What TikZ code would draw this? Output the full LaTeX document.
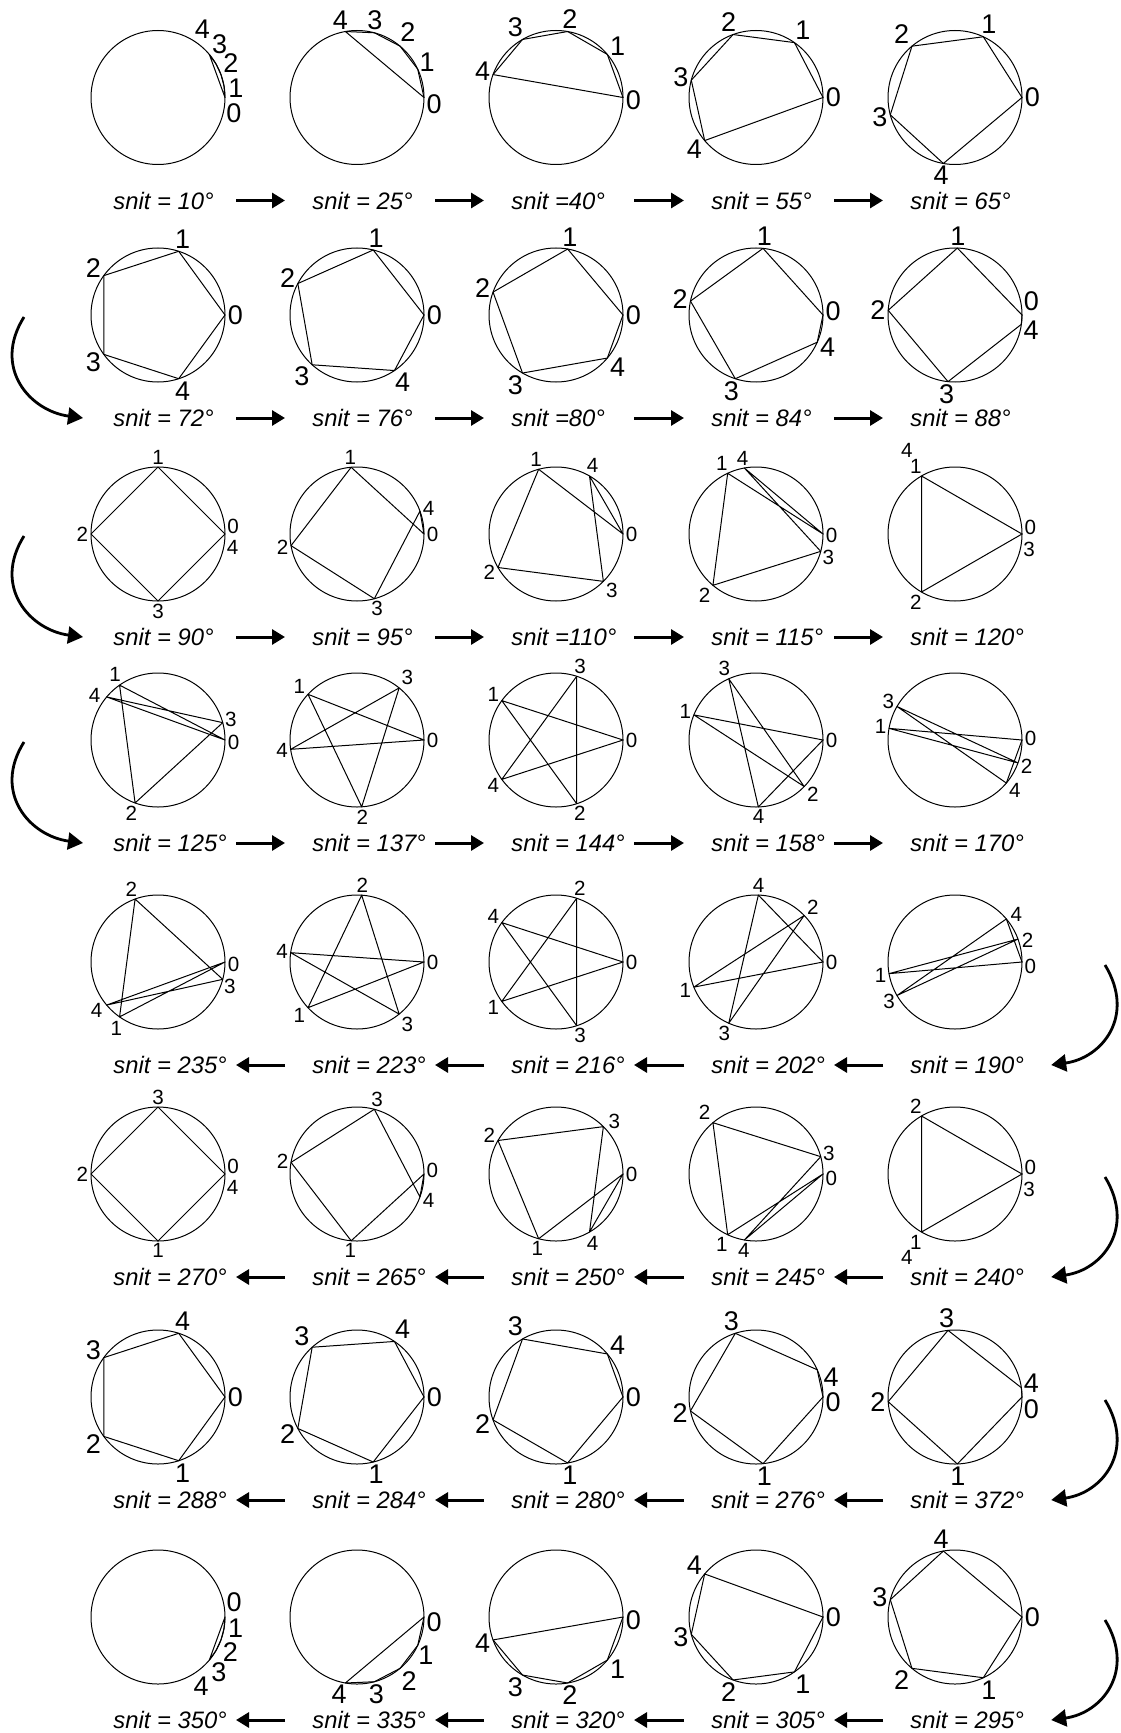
\documentclass[tikz,border=0pt]{standalone}
\usepackage{fontspec}
\setmainfont{Liberation Sans}
\usetikzlibrary{arrows.meta,calc}

% one wheel: name, centre, drawn step angle, caption, labels k/angle/extra, digit style
\newcommand{\wheel}[6]{%
  \node[ring] (#1) at (#2) {};
  \foreach \k in {0,...,4}
    \coordinate (#1-\k) at ($(#1.center)+({\k*#3}:67)$);
  \draw[chord] (#1-0) -- (#1-1) -- (#1-2) -- (#1-3) -- (#1-4) -- cycle;
  \foreach \k/\a/\e [evaluate=\a as \opp using {\a+180}] in {#5}
    \node[#6, anchor=\opp] (#1-n\k) at ($(#1.center)+({\a}:{67+\e})$) {\k};
  \node[snitlabel] (#1-cap) at ($(#1.center)+(-45,-103)$) {#4};
}

\begin{document}
\begin{tikzpicture}[x=0.5pt,y=0.5pt,
    ring/.style={circle,draw,line width=0.5pt,minimum size=67pt,inner sep=0pt,outer sep=0pt},
    chord/.style={line width=0.5pt,line join=round},
    bigdigit/.style={font=\fontsize{13.5}{14}\selectfont,inner sep=1.2pt},
    smalldigit/.style={font=\fontsize{10.3}{11}\selectfont,inner sep=1.2pt},
    snitlabel/.style={anchor=west,inner sep=0pt,font=\fontsize{11.9}{13}\selectfont\itshape},
    flowarrow/.style={line width=1.5pt,-{Triangle[length=6.5pt,width=7.5pt]}},
    bendarrow/.style={line width=1.4pt,-{Triangle[length=7.5pt,width=8.5pt]}}]
  \useasboundingbox (0,0) rectangle (1120,-1733);

  % row 1
  \wheel{s10}{158,-97.5}{10}{snit = 10°}{0/-12/0, 1/7/1, 2/25/2, 3/41/1, 4/57/0}{bigdigit}
  \wheel{s25}{357,-97.5}{25}{snit = 25°}{0/-5/0, 1/27/0, 2/52/0, 3/77/0, 4/102/0}{bigdigit}
  \wheel{s40}{556,-97.5}{40}{snit =40°}{0/-2/0, 1/40/0, 2/80/0, 3/120/0, 4/160/0}{bigdigit}
  \wheel{s55}{756,-97.5}{55}{snit = 55°}{0/0/0, 1/55/0, 2/110/0, 3/165/0, 4/220/0}{bigdigit}
  \wheel{s65}{955,-97.5}{65}{snit = 65°}{0/0/0, 1/65/0, 2/130/0, 3/195/0, 4/260/0}{bigdigit}

  % row 2
  \wheel{s72}{158,-315}{72}{snit = 72°}{0/0/0, 1/72/0, 2/144/0, 3/216/0, 4/288/0}{bigdigit}
  \wheel{s76}{357,-315}{76}{snit = 76°}{0/0/0, 1/76/0, 2/152/0, 3/228/0, 4/304/0}{bigdigit}
  \wheel{s80}{556,-315}{80}{snit =80°}{0/0/0, 1/80/0, 2/160/0, 3/240/0, 4/320/0}{bigdigit}
  \wheel{s84}{756,-315}{84}{snit = 84°}{0/3/0, 1/84/0, 2/168/0, 3/252/0, 4/336/0}{bigdigit}
  \wheel{s88}{955,-315}{88}{snit = 88°}{0/10/0, 1/88/0, 2/176/0, 3/264/0, 4/349/0}{bigdigit}

  % row 3
  \wheel{s90}{158,-534}{90}{snit = 90°}{0/6/0, 1/90/0, 2/180/0, 3/270/0, 4/350/0}{smalldigit}
  \wheel{s95}{357,-534}{95}{snit = 95°}{0/0/0, 1/95/0, 2/190/0, 3/285/0, 4/20/0}{smalldigit}
  \wheel{s110}{556,-534}{105}{snit =110°}{0/0/0, 1/105/0, 2/210/0, 3/315/0, 4/62/0}{smalldigit}
  \wheel{s115}{756,-534}{115}{snit = 115°}{0/-1/0, 1/116/0, 2/230/0, 3/342/0, 4/100/0}{smalldigit}
  \wheel{s120}{955,-534}{120}{snit = 120°}{0/5/0, 1/120/0, 2/240/0, 3/348/0, 4/120/18}{smalldigit}

  % row 4
  \wheel{s125}{158,-740}{125}{snit = 125°}{0/-2/0, 1/123/0, 2/250/0, 3/16/0, 4/145/0}{smalldigit}
  \wheel{s137}{357,-740}{137}{snit = 137°}{0/0/0, 1/137/0, 2/274/0, 3/51/0, 4/188/0}{smalldigit}
  \wheel{s144}{556,-740}{144}{snit = 144°}{0/0/0, 1/144/0, 2/288/0, 3/72/0, 4/216/0}{smalldigit}
  \wheel{s158}{756,-740}{158}{snit = 158°}{0/0/0, 1/158/0, 2/316/0, 3/114/0, 4/272/0}{smalldigit}
  \wheel{s170}{955,-740}{170}{snit = 170°}{0/1/0, 1/170/0, 2/340/0, 3/150/0, 4/320/0}{smalldigit}

  % row 5
  \wheel{s235}{158,-962}{235}{snit = 235°}{0/-2/0, 1/238/0, 2/110/0, 3/341/0, 4/218/0}{smalldigit}
  \wheel{s223}{357,-962}{223}{snit = 223°}{0/0/0, 1/223/0, 2/86/0, 3/309/0, 4/172/0}{smalldigit}
  \wheel{s216}{556,-962}{216}{snit = 216°}{0/0/0, 1/216/0, 2/72/0, 3/288/0, 4/144/0}{smalldigit}
  \wheel{s202}{756,-962}{202}{snit = 202°}{0/0/0, 1/202/0, 2/44/0, 3/246/0, 4/88/0}{smalldigit}
  \wheel{s190}{955,-962}{190}{snit = 190°}{0/-3/0, 1/190/0, 2/17/0, 3/211/0, 4/38/0}{smalldigit}

  % row 6
  \wheel{s270}{158,-1174}{270}{snit = 270°}{0/6/0, 1/270/0, 2/180/0, 3/90/0, 4/350/0}{smalldigit}
  \wheel{s265}{357,-1174}{265}{snit = 265°}{0/3/0, 1/265/0, 2/170/0, 3/75/0, 4/340/0}{smalldigit}
  \wheel{s250}{556,-1174}{255}{snit = 250°}{0/0/0, 1/256/0, 2/150/0, 3/42/0, 4/298/0}{smalldigit}
  \wheel{s245}{756,-1174}{245}{snit = 245°}{0/-3/0, 1/244/0, 2/130/0, 3/16/0, 4/261/0}{smalldigit}
  \wheel{s240}{955,-1174}{240}{snit = 240°}{0/5/0, 1/240/0, 2/120/0, 3/348/0, 4/240/18}{smalldigit}

  % row 7
  \wheel{s288}{158,-1397}{288}{snit = 288°}{0/0/0, 1/288/0, 2/216/0, 3/144/0, 4/72/0}{bigdigit}
  \wheel{s284}{357,-1397}{284}{snit = 284°}{0/0/0, 1/284/0, 2/208/0, 3/132/0, 4/56/0}{bigdigit}
  \wheel{s280}{556,-1397}{280}{snit = 280°}{0/0/0, 1/280/0, 2/200/0, 3/120/0, 4/40/0}{bigdigit}
  \wheel{s276}{756,-1397}{276}{snit = 276°}{0/-4/0, 1/276/0, 2/192/0, 3/108/0, 4/15/0}{bigdigit}
  \wheel{s372}{955,-1397}{272}{snit = 372°}{0/-9/0, 1/272/0, 2/184/0, 3/96/0, 4/10/0}{bigdigit}

  % row 8
  \wheel{s350}{158,-1617}{350}{snit = 350°}{0/11/0, 1/-8/1, 2/-26/2, 3/-42/1, 4/-58/0}{bigdigit}
  \wheel{s335}{357,-1617}{335}{snit = 335°}{0/-4/0, 1/-29/0, 2/-51/0, 3/-76/0, 4/-103/0}{bigdigit}
  \wheel{s320}{556,-1617}{320}{snit = 320°}{0/-2/0, 1/-40/0, 2/-80/0, 3/-120/0, 4/200/0}{bigdigit}
  \wheel{s305}{756,-1617}{305}{snit = 305°}{0/0/0, 1/305/0, 2/250/0, 3/195/0, 4/140/0}{bigdigit}
  \wheel{s295}{955,-1617}{295}{snit = 295°}{0/0/0, 1/295/0, 2/230/0, 3/165/0, 4/100/0}{bigdigit}

  % straight arrows, left to right
  \foreach \a/\b in {s10/s25, s25/s40, s40/s55, s55/s65,
                     s72/s76, s76/s80, s80/s84, s84/s88,
                     s90/s95, s95/s110, s110/s115, s115/s120,
                     s125/s137, s137/s144, s144/s158, s158/s170}
    \draw[flowarrow] ([shift={(78,-103)}]\a.center) -- ([shift={(-72,-103)}]\b.center);
  % straight arrows, right to left
  \foreach \a/\b in {s235/s223, s223/s216, s216/s202, s202/s190,
                     s270/s265, s265/s250, s250/s245, s245/s240,
                     s288/s284, s284/s280, s280/s276, s276/s372,
                     s350/s335, s335/s320, s320/s305, s305/s295}
    \draw[flowarrow] ([shift={(-72,-103)}]\b.center) -- ([shift={(78,-103)}]\a.center);

  % turning arrows
  \coordinate (from72) at (24,-317);
  \coordinate (from90) at (24,-536);
  \coordinate (from125) at (24,-742);
  \draw[bendarrow] (from72) .. controls +(-32,-51) and +(-53,7) .. ([shift={(-30,0)}]s72-cap.west);
  \draw[bendarrow] (from90) .. controls +(-32,-51) and +(-53,7) .. ([shift={(-30,0)}]s90-cap.west);
  \draw[bendarrow] (from125) .. controls +(-32,-51) and +(-53,7) .. ([shift={(-30,0)}]s125-cap.west);

  \coordinate (from190) at (1105,-965);
  \coordinate (from240) at (1105,-1177);
  \coordinate (from372) at (1105,-1400);
  \coordinate (from295) at (1105,-1620);
  \draw[bendarrow] (from190) .. controls +(31,-51) and +(51,7) .. ([shift={(27,0)}]s190-cap.east);
  \draw[bendarrow] (from240) .. controls +(31,-51) and +(51,7) .. ([shift={(27,0)}]s240-cap.east);
  \draw[bendarrow] (from372) .. controls +(31,-51) and +(51,7) .. ([shift={(27,0)}]s372-cap.east);
  \draw[bendarrow] (from295) .. controls +(31,-51) and +(51,7) .. ([shift={(27,0)}]s295-cap.east);
\end{tikzpicture}
\end{document}
